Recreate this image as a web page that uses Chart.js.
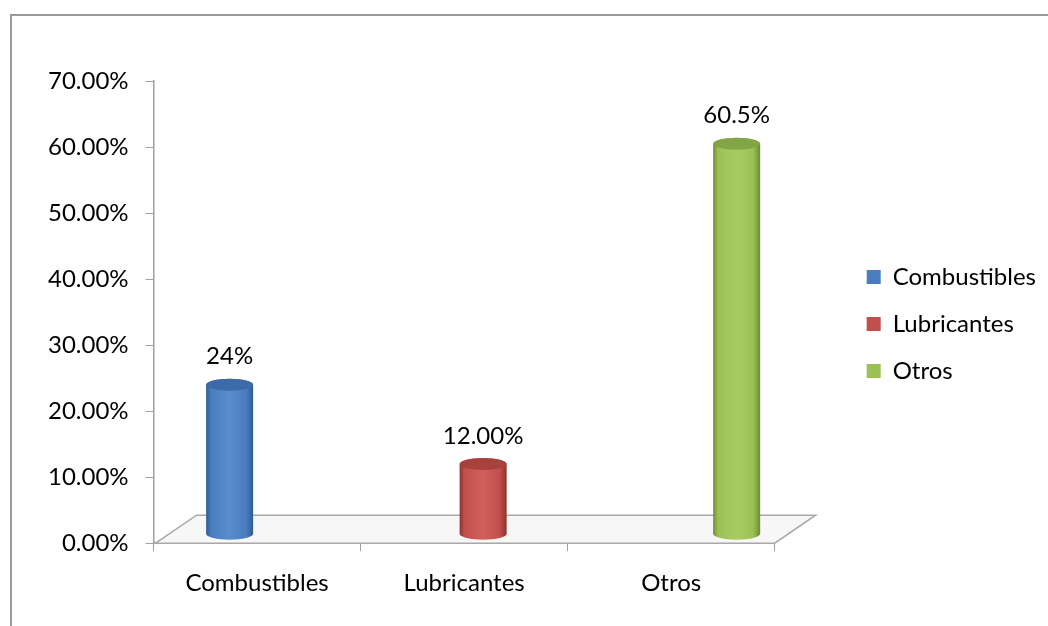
<!DOCTYPE html>
<html>
<head>
<meta charset="utf-8">
<script src="https://cdn.jsdelivr.net/npm/chart.js@4"></script>
<style>
  html, body { margin: 0; padding: 0; background: #fff; overflow: hidden; }
  #frame {
    position: absolute; left: 10px; top: 14px;
    width: 1038px; height: 614px;
    border-top: 2px solid #9a9a9a; border-left: 2px solid #9a9a9a;
  }
  #frame canvas { position: absolute; left: 0; top: 0; }
</style>
</head>
<body>
<div id="frame"><canvas id="chart" width="1036" height="610"></canvas></div>
<script>
'use strict';

// ---------------- data ----------------
const categories = ['Combustibles', 'Lubricantes', 'Otros'];
const values = [24, 12, 60.5];
const valueLabels = ['24%', '12.00%', '60.5%'];
const yTicks = [0, 10, 20, 30, 40, 50, 60, 70];

// fill, light, dark, cap
const palette = [
  ['#4a7dc0', '#5a8ccd', '#2e5b94', '#3d6aa8'],
  ['#c24f4c', '#d1605c', '#8e302d', '#a8403c'],
  ['#9bc154', '#a8cc62', '#6b8c33', '#82a645']
];

const FONT = 'Lato';

// 3d floor under the bars
const floorPlugin = {
  id: 'floor',
  beforeDatasetsDraw(chart) {
    const {ctx, chartArea: a} = chart;
    const dx = 41, dy = 28;
    ctx.save();
    ctx.beginPath();
    ctx.moveTo(a.left + 2, a.bottom);
    ctx.lineTo(a.left + 2 + dx, a.bottom - dy);
    ctx.lineTo(a.right + dx, a.bottom - dy);
    ctx.lineTo(a.right, a.bottom);
    ctx.closePath();
    ctx.fillStyle = '#f7f7f7';
    ctx.fill();
    ctx.strokeStyle = '#a8a8a8';
    ctx.lineWidth = 1.5;
    ctx.stroke();
    ctx.restore();
  }
};

// bars drawn as cylinders instead of flat rectangles
const cylinderPlugin = {
  id: 'cylinder',
  beforeDatasetDraw(chart, args) {
    const ctx = chart.ctx;
    const colors = palette[args.index];
    for (let bar of args.meta.data) {
      const {x, y, base, width} = bar.getProps(['x', 'y', 'base', 'width'], true);
      const rx = width / 2, ry = 6;
      const bottom = base - 9;
      const grad = ctx.createLinearGradient(x - rx, 0, x + rx, 0);
      grad.addColorStop(0, colors[2]);
      grad.addColorStop(0.1, colors[0]);
      grad.addColorStop(0.5, colors[1]);
      grad.addColorStop(0.85, colors[0]);
      grad.addColorStop(1, colors[2]);
      ctx.save();
      ctx.beginPath();
      ctx.moveTo(x - rx, y);
      ctx.lineTo(x - rx, bottom);
      ctx.ellipse(x, bottom, rx, ry, 0, Math.PI, 0, true);
      ctx.lineTo(x + rx, y);
      ctx.ellipse(x, y, rx, ry, 0, 0, Math.PI, true);
      ctx.closePath();
      ctx.fillStyle = grad;
      ctx.fill();
      ctx.beginPath();
      ctx.ellipse(x, y, rx, ry, 0, 0, Math.PI * 2);
      ctx.fillStyle = colors[3];
      ctx.fill();
      ctx.restore();
    }
    return false;
  }
};

// value text over each bar
const valueLabelPlugin = {
  id: 'valueLabels',
  afterDatasetsDraw(chart) {
    const ctx = chart.ctx;
    ctx.save();
    ctx.font = '24px ' + FONT;
    ctx.fillStyle = '#000';
    ctx.textAlign = 'center';
    ctx.textBaseline = 'bottom';
    chart.data.datasets.forEach((ds, i) => {
      const bar = chart.getDatasetMeta(i).data[0];
      ctx.fillText(valueLabels[i], bar.x, bar.y - 16);
    });
    ctx.restore();
  }
};

function drawChart() {
  Chart.defaults.font.family = FONT;
  Chart.defaults.font.size = 24;
  Chart.defaults.color = '#000';

  const datasets = categories.map((name, i) => ({
    label: name,
    data: [{x: i, y: values[i]}],
    backgroundColor: palette[i][0],
    xAxisID: 'xb',
    yAxisID: 'y',
    barThickness: 47,
    grouped: false
  }));

  new Chart(document.getElementById('chart'), {
    type: 'bar',
    data: { labels: categories, datasets: datasets },
    options: {
      responsive: false,
      animation: false,
      layout: { padding: { left: 19, top: 16, right: 2, bottom: 10 } },
      plugins: {
        legend: {
          position: 'right',
          maxWidth: 230,
          labels: { boxWidth: 14, boxHeight: 14, padding: 23, color: '#000' }
        },
        tooltip: { enabled: false }
      },
      scales: {
        x: {
          type: 'category',
          offset: true,
          grid: { offset: true, drawOnChartArea: false, tickLength: 8, color: '#a0a0a0' },
          border: { color: '#a8a8a8', width: 1.5 },
          ticks: { padding: 18 }
        },
        // bars sit on their own hidden axis, set back a little in depth
        xb: {
          type: 'linear',
          display: false,
          offset: false,
          min: -0.3,
          max: 2.15
        },
        y: {
          min: 0,
          max: 70,
          afterBuildTicks(scale) { scale.ticks = yTicks.map(v => ({value: v})); },
          grid: { drawOnChartArea: false, tickLength: 8, color: '#a0a0a0' },
          border: { color: '#a0a0a0', width: 1.5 },
          ticks: { padding: 17, callback: v => v.toFixed(2) + '%' }
        },
        // empty axes that only hold space around the plot
        gap: {
          type: 'linear',
          position: 'right',
          grid: { display: false },
          border: { display: false },
          ticks: { display: false },
          afterFit(scale) { scale.width = 69; }
        },
        topGap: {
          type: 'linear',
          position: 'top',
          grid: { display: false },
          border: { display: false },
          ticks: { display: false },
          afterFit(scale) { scale.height = 49; }
        }
      }
    },
    plugins: [floorPlugin, cylinderPlugin, valueLabelPlugin]
  });
}

document.fonts.load('24px ' + FONT).then(drawChart, drawChart);
</script>
</body>
</html>
